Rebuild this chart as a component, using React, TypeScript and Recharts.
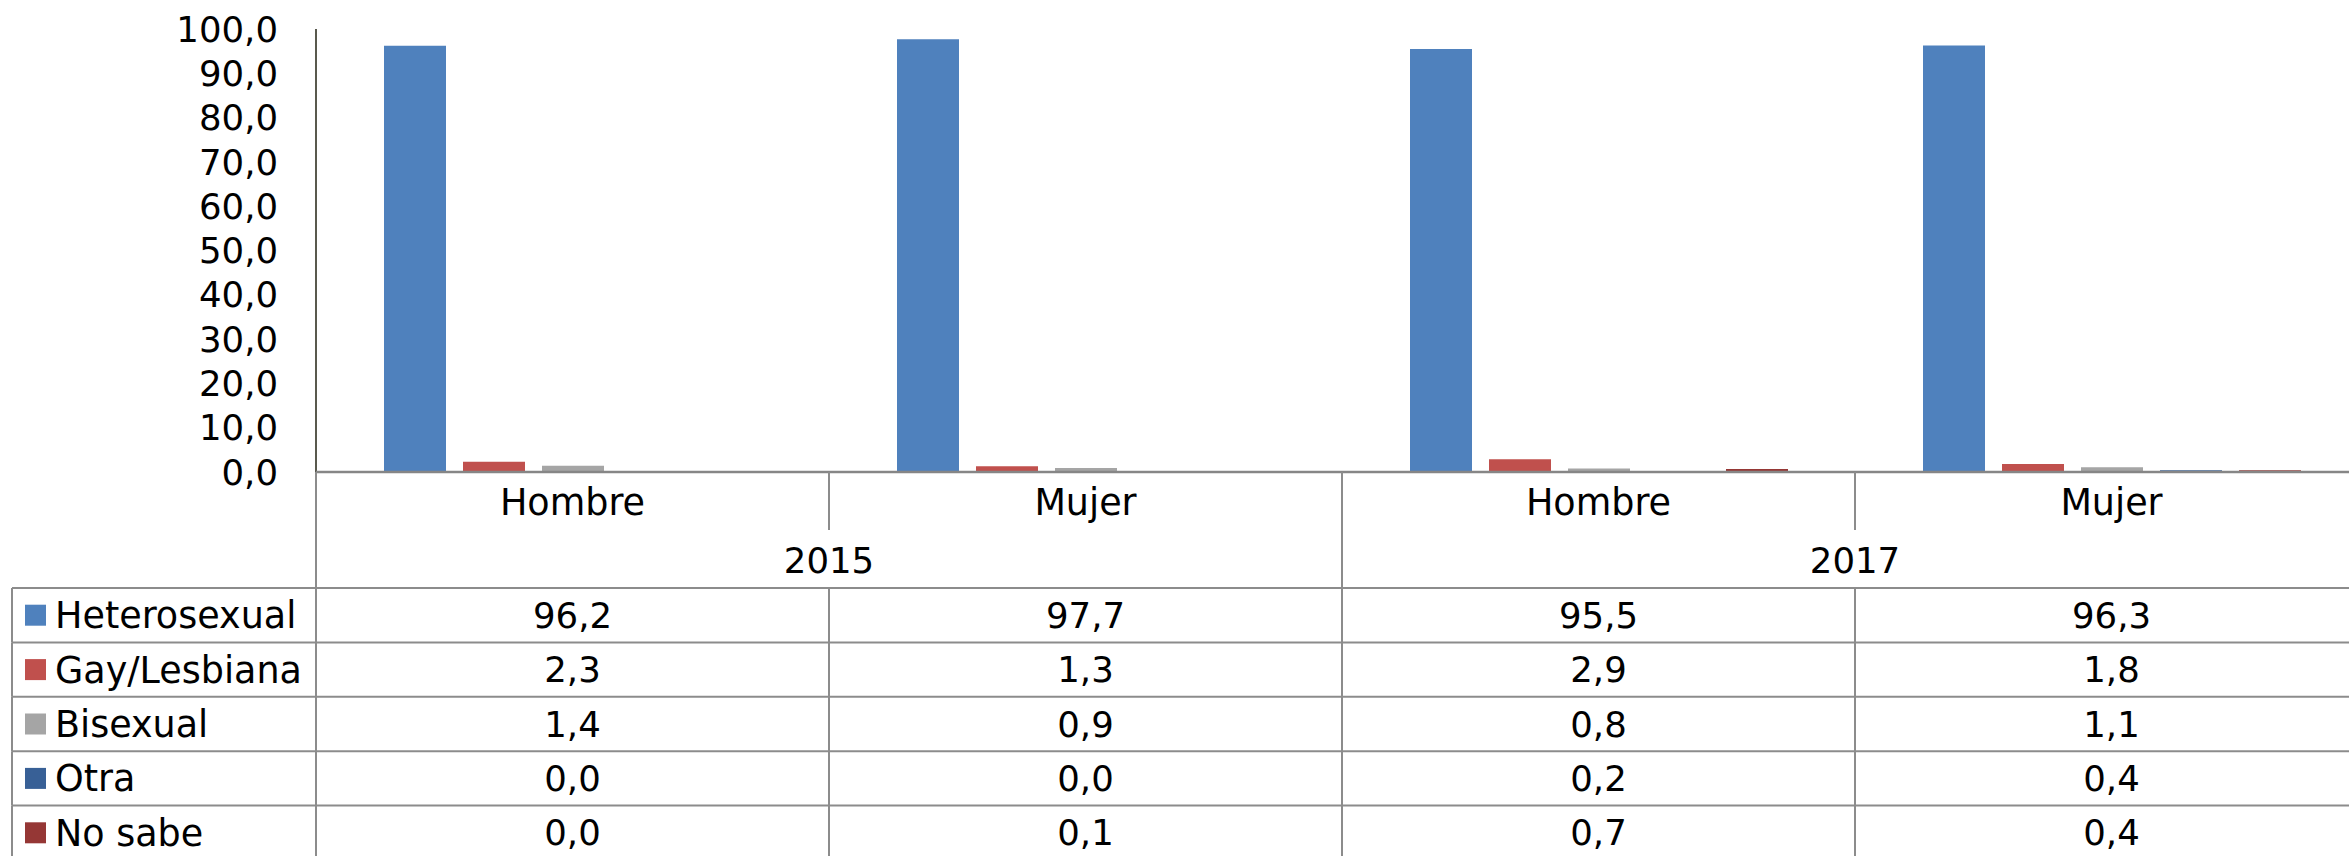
import { BarChart, Bar, XAxis, YAxis } from "recharts";

const categories = ["Hombre", "Mujer", "Hombre", "Mujer"];
const years = ["2015", "2015", "2017", "2017"];
const heterosexual = [96.2, 97.7, 95.5, 96.3];
const gayLesbiana = [2.3, 1.3, 2.9, 1.8];
const bisexual = [1.4, 0.9, 0.8, 1.1];
const otra = [0.0, 0.0, 0.2, 0.4];
const noSabe = [0.0, 0.1, 0.7, 0.4];
const yTicks = [0, 10, 20, 30, 40, 50, 60, 70, 80, 90, 100];

const series = [
  { key: "heterosexual", name: "Heterosexual", values: heterosexual, color: "#4f81bd" },
  { key: "gayLesbiana", name: "Gay/Lesbiana", values: gayLesbiana, color: "#c0504d" },
  { key: "bisexual", name: "Bisexual", values: bisexual, color: "#a5a5a5" },
  { key: "otra", name: "Otra", values: otra, color: "#386096" },
  { key: "noSabe", name: "No sabe", values: noSabe, color: "#953735" },
];

const data = categories.map((cat, i) => {
  const row: Record<string, string | number> = { id: `${years[i]}-${cat}`, cat, year: years[i] };
  series.forEach((s) => (row[s.key] = s.values[i]));
  return row;
});

const FONT = "'DejaVu Sans', Verdana, sans-serif";
const NUM_SIZE = 35.5;
const WORD_SIZE = 36.5;
const LINE = "#8c8c8c";
const PLOT_LEFT = 316;
const LEGEND_LEFT = 12;
const CHART_W = 2368;
const BAND = (CHART_W - PLOT_LEFT) / categories.length;
const CAT_H = 58;
const YEAR_H = 58;
const ROW_H = 54.4;

const fmt = (v: number) => v.toFixed(1).replace(".", ",");

function CategoryTick(props: any) {
  const { x, y, index } = props;
  const left = x - BAND / 2;
  return (
    <g>
      <line x1={left} x2={left} y1={y} y2={y + CAT_H} stroke={LINE} strokeWidth={2} />
      <text x={x} y={y + 30} dy="0.355em" textAnchor="middle" fontSize={WORD_SIZE} fontFamily={FONT} fill="#000">
        {categories[index]}
      </text>
    </g>
  );
}

function YearTick(props: any) {
  const { x, y, index } = props;
  if (index % 2 !== 0) return <g />;
  const left = x - BAND / 2;
  return (
    <g>
      <line x1={left} x2={left} y1={y} y2={y + YEAR_H} stroke={LINE} strokeWidth={2} />
      <text x={x + BAND / 2} y={y + 30} dy="0.355em" textAnchor="middle" fontSize={NUM_SIZE} fontFamily={FONT} fill="#000">
        {years[index]}
      </text>
    </g>
  );
}

function makeRowTick(s: (typeof series)[number]) {
  return (props: any) => {
    const { x, y, index } = props;
    const left = x - BAND / 2;
    const mid = y + ROW_H / 2;
    return (
      <g>
        {index === 0 && (
          <g>
            <line x1={LEGEND_LEFT} x2={left} y1={y} y2={y} stroke={LINE} strokeWidth={2} />
            <line x1={LEGEND_LEFT} x2={LEGEND_LEFT} y1={y} y2={y + ROW_H} stroke={LINE} strokeWidth={2} />
            <rect x={25} y={mid - 10.5} width={21} height={21} fill={s.color} />
            <text x={55} y={mid} dy="0.355em" fontSize={WORD_SIZE} fontFamily={FONT} fill="#000">
              {s.name}
            </text>
          </g>
        )}
        <line x1={left} x2={left + BAND} y1={y} y2={y} stroke={LINE} strokeWidth={2} />
        <line x1={left} x2={left} y1={y} y2={y + ROW_H} stroke={LINE} strokeWidth={2} />
        <line x1={left + BAND} x2={left + BAND} y1={y} y2={y + ROW_H} stroke={LINE} strokeWidth={2} />
        <text x={x} y={mid} dy="0.355em" textAnchor="middle" fontSize={NUM_SIZE} fontFamily={FONT} fill="#000">
          {fmt(s.values[index])}
        </text>
      </g>
    );
  };
}

export default function App() {
  return (
    <div
      style={{
        position: "fixed",
        left: 0,
        top: 0,
        width: 2349,
        height: 856,
        overflow: "hidden",
        background: "#fff",
        fontFamily: FONT,
      }}
    >
      <BarChart
        width={CHART_W}
        height={860}
        data={data}
        margin={{ top: 29, right: 0, left: 0, bottom: 0 }}
        barSize={62}
        barGap={17}
      >
        <YAxis
          width={PLOT_LEFT}
          domain={[0, 100]}
          ticks={yTicks}
          tickFormatter={fmt}
          tickLine={false}
          tickSize={0}
          tickMargin={38}
          axisLine={{ stroke: "#59594e", strokeWidth: 2 }}
          tick={{ fill: "#000", fontSize: NUM_SIZE, fontFamily: FONT }}
          interval={0}
        />
        <XAxis
          xAxisId="x0"
          dataKey="id"
          height={CAT_H}
          tickLine={false}
          tickSize={0}
          tickMargin={0}
          interval={0}
          axisLine={{ stroke: "#868686", strokeWidth: 2.5 }}
          tick={CategoryTick}
        />
        <XAxis
          xAxisId="x1"
          dataKey="id"
          height={YEAR_H}
          tickLine={false}
          tickSize={0}
          tickMargin={0}
          interval={0}
          axisLine={false}
          tick={YearTick}
        />
        {series.map((s, i) => (
          <XAxis
            key={`row-${s.key}`}
            xAxisId={`x${i + 2}`}
            dataKey="id"
            height={ROW_H}
            tickLine={false}
            tickSize={0}
            tickMargin={0}
            interval={0}
            axisLine={false}
            tick={makeRowTick(s)}
          />
        ))}
        {series.map((s) => (
          <Bar key={s.key} xAxisId="x0" dataKey={s.key} name={s.name} fill={s.color} isAnimationActive={false} />
        ))}
      </BarChart>
    </div>
  );
}
